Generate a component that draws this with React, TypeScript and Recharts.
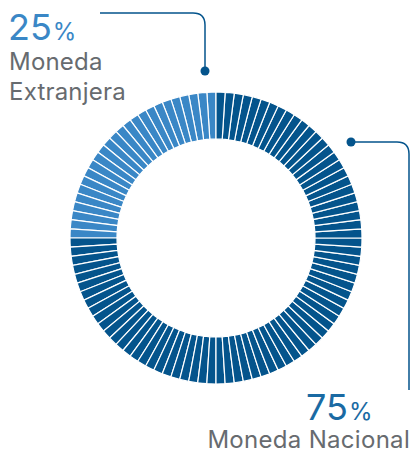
import { PieChart, Pie, Cell } from 'recharts'

const categories = ['Moneda Extranjera', 'Moneda Nacional']
const shares = [25, 75]
const shareLabels = ['25', '75']
const colors = ['#3a87c6', '#04548c']
const labelColors = ['#3a87c6', '#1a6aa3']

// one slice per percentage point, coloured by category
const slices = categories.flatMap((cat, ci) =>
  Array.from({ length: shares[ci] }, (_, i) => ({ name: `${cat}-${i}`, value: 1, cat: ci }))
)

const font = 'Inter, "Open Sans", sans-serif'
const grey = '#676b6f'

export default function App() {
  return (
    <div style={{ position: 'absolute', left: 0, top: 0, width: 412, height: 455, background: '#fff', fontFamily: font }}>
      <PieChart width={412} height={455} margin={{ top: 0, right: 0, bottom: 0, left: 0 }}>
        <Pie
          data={slices}
          dataKey="value"
          cx={216}
          cy={238}
          innerRadius={99}
          outerRadius={146}
          startAngle={90}
          endAngle={450}
          stroke="#ffffff"
          strokeWidth={1.2}
          isAnimationActive={false}
        >
          {slices.map((s, i) => (
            <Cell key={i} fill={colors[s.cat]} />
          ))}
        </Pie>
      </PieChart>

      <svg width={412} height={455} style={{ position: 'absolute', left: 0, top: 0, pointerEvents: 'none' }}>
        <path d="M100 13 H193 Q205 13 205 25 V71" fill="none" stroke="#04548c" strokeWidth={1.5} />
        <circle cx={205} cy={71} r={4.5} fill="#04548c" />
        <path d="M351 142 H397 Q409 142 409 154 V390" fill="none" stroke="#04548c" strokeWidth={1.5} />
        <circle cx={351} cy={142} r={4.5} fill="#04548c" />

        <text x={8} y={40} fill={labelColors[0]} fontFamily={font}>
          <tspan fontSize={36}>{shareLabels[0]}</tspan>
          <tspan fontSize={24} dx={1}>%</tspan>
        </text>
        <text x={9} y={70} fill={grey} fontSize={24} letterSpacing={0.2} fontFamily={font}>Moneda</text>
        <text x={9} y={100} fill={grey} fontSize={24} letterSpacing={0.2} fontFamily={font}>Extranjera</text>

        <text x={306} y={420} fill={labelColors[1]} fontFamily={font}>
          <tspan fontSize={36}>{shareLabels[1]}</tspan>
          <tspan fontSize={24} dx={1}>%</tspan>
        </text>
        <text x={410} y={448} textAnchor="end" fill={grey} fontSize={24} letterSpacing={0.3} fontFamily={font}>{categories[1]}</text>
      </svg>
    </div>
  )
}
